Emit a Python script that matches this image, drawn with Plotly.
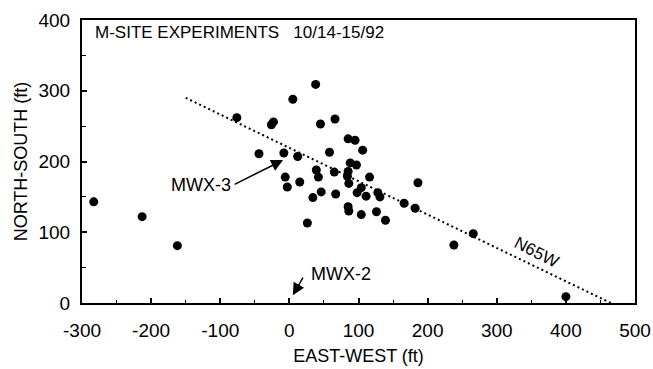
import plotly.graph_objects as go

# Observation points (ft)
east_west = [38, 5, -76, -23, -26, 45, 66, 85, 95, 106, -44, -8, 12, 58,
             39, 42, -6, -3, 15, 65, 46, 34, 67, 26, 85, 84, 86, 88, 97,
             116, 98, 104, 111, 128, 131, 85, 86, 104, 126, 139, 166, 182,
             186, -213, -162, -283, 238, 266, 400]
north_south = [309, 288, 262, 256, 252, 253, 260, 232, 230, 216, 211, 212, 207, 213,
               188, 178, 178, 164, 171, 185, 157, 149, 154, 113, 186, 179, 169, 198, 195,
               178, 156, 163, 151, 156, 150, 136, 130, 125, 129, 117, 141, 134,
               170, 122, 81, 143, 82, 98, 9]

# Trend line N65W
trend_x = [-150, 465]
trend_y = [290, 0]

# Wells
well_names = ["MWX-3", "MWX-2"]
well_x = [0, 5]
well_y = [207, 11]

# Tick labels
x_ticks = [-300, -200, -100, 0, 100, 200, 300, 400, 500]
x_tick_text = ["-300", "-200", "-100", "0", "100", "200", "300", "400", "500"]
y_ticks = [0, 100, 200, 300, 400]
y_tick_text = ["0", "100", "200", "300", "400"]

FONT = "Liberation Sans, Arial, sans-serif"

fig = go.Figure()
fig.add_trace(go.Scatter(x=trend_x, y=trend_y, mode="lines",
                         line=dict(color="black", width=2, dash="2px,3px"),
                         hoverinfo="skip", showlegend=False))
fig.add_trace(go.Scatter(x=east_west, y=north_south, mode="markers",
                         marker=dict(color="black", size=9, line=dict(width=0)),
                         showlegend=False))
fig.add_trace(go.Scatter(x=well_x[:1], y=well_y[:1], mode="markers",
                         marker=dict(symbol="triangle-up", color="white", size=6,
                                     line=dict(width=0)),
                         showlegend=False))

ann = []
ann.append(dict(x=-284, y=382, xref="x", yref="y", text="M-SITE EXPERIMENTS   10/14-15/92",
                showarrow=False, xanchor="left", yanchor="middle",
                font=dict(family=FONT, size=17, color="black")))
# MWX-3 label and arrow
ann.append(dict(x=-128, y=167, xref="x", yref="y", text=well_names[0],
                showarrow=False, font=dict(family=FONT, size=18, color="black")))
ann.append(dict(x=-9, y=202, xref="x", yref="y", text="", showarrow=True,
                ax=-50, ay=25, arrowhead=2, arrowsize=1.6, arrowwidth=1.5,
                arrowcolor="black"))
# MWX-2 label and arrow
ann.append(dict(x=75, y=41, xref="x", yref="y", text=well_names[1],
                showarrow=False, font=dict(family=FONT, size=18, color="black")))
ann.append(dict(x=well_x[1], y=well_y[1], xref="x", yref="y", text="", showarrow=True,
                ax=11, ay=-19, arrowhead=2, arrowsize=1.6, arrowwidth=1.5,
                arrowcolor="black"))
# N65W
ann.append(dict(x=358, y=72, xref="x", yref="y", text="N65W", showarrow=False,
                textangle=27, font=dict(family=FONT, size=17, color="black")))

fig.update_layout(
    width=653, height=369,
    margin=dict(l=82, r=18, t=20, b=66),
    paper_bgcolor="white", plot_bgcolor="white",
    font=dict(family=FONT, size=18, color="black"),
    annotations=ann,
    xaxis=dict(range=[-300, 500], tickvals=x_ticks, ticktext=x_tick_text,
               ticks="inside", ticklen=5, tickfont=dict(size=19), automargin=False,
               tickwidth=1.5, tickcolor="black", showgrid=False, zeroline=False,
               showline=True, linecolor="black", linewidth=2, mirror=True,
               ticklabelstandoff=9,
               minor=dict(dtick=50, tick0=0, ticks="inside", ticklen=3, tickcolor="black",
                          tickwidth=1.2, showgrid=False),
               title=dict(text="EAST-WEST (ft)", font=dict(size=18), standoff=10)),
    yaxis=dict(range=[0, 400], tickvals=y_ticks, ticktext=y_tick_text,
               ticks="inside", ticklen=5, tickfont=dict(size=19), automargin=False,
               tickwidth=1.5, tickcolor="black", showgrid=False, zeroline=False,
               showline=True, linecolor="black", linewidth=2, mirror=True,
               ticklabelstandoff=6,
               minor=dict(dtick=50, tick0=0, ticks="inside", ticklen=4, tickcolor="black",
                          tickwidth=1.2, showgrid=False),
               title=dict(text="NORTH-SOUTH (ft)", font=dict(size=18), standoff=6)),
)

fig.write_html("out.html")
